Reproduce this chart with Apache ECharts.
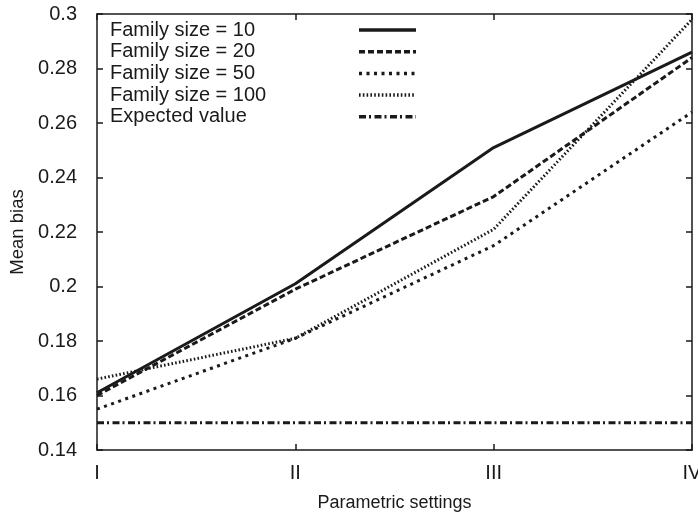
<!DOCTYPE html>
<html><head><meta charset="utf-8">
<script src="https://cdn.jsdelivr.net/npm/echarts@6/dist/echarts.min.js"></script>
<style>html,body{margin:0;padding:0;background:#fff}#c{width:698px;height:514px}</style>
</head><body><div id="c"></div>
<script>
const categories = ['I', 'II', 'III', 'IV'];
const size10 = [0.161, 0.201, 0.251, 0.286];
const size20 = [0.160, 0.199, 0.233, 0.284];
const size50 = [0.155, 0.181, 0.215, 0.264];
const size100 = [0.166, 0.181, 0.221, 0.298];
const expected = [0.15, 0.15, 0.15, 0.15];
const seriesNames = ['Family size = 10', 'Family size = 20', 'Family size = 50', 'Family size = 100', 'Expected value'];

const font = 'Liberation Sans, Arial, sans-serif';
const ink = '#1a1a1a';
function mk(name, data, type, width) {
  return { name, type: 'line', data, symbol: 'none', smooth: false,
    lineStyle: { color: ink, width, type, cap: 'butt' }, itemStyle: { color: ink } };
}
const chart = echarts.init(document.getElementById('c'), null, { renderer: 'canvas' });
chart.setOption({
  animation: false,
  grid: { left: 97, right: 6, top: 14, bottom: 64, containLabel: false, outerBoundsMode: 'none' },
  legend: {
    left: 105, top: 15, orient: 'vertical', align: 'right',
    itemWidth: 57, itemHeight: 14, itemGap: 1.7,
    icon: 'inherit',
    itemStyle: { opacity: 0 },
    lineStyle: { width: 3.5 },
    formatter: n => '{a|' + n + '}',
    textStyle: { fontFamily: font, fontSize: 20, color: ink, lineHeight: 19,
      rich: { a: { width: 244, align: 'left', fontFamily: font, fontSize: 20, color: ink, lineHeight: 19 } } },
    data: seriesNames.map(n => ({ name: n }))
  },
  xAxis: [{
    type: 'category', data: categories, boundaryGap: false,
    name: 'Parametric settings', nameLocation: 'middle', nameGap: 44,
    nameTextStyle: { fontFamily: font, fontSize: 18, color: ink },
    axisLine: { lineStyle: { color: ink, width: 1.5 } },
    axisTick: { inside: true, length: 6, lineStyle: { color: ink, width: 1.5 } },
    axisLabel: { fontFamily: font, fontSize: 20, color: ink, margin: 13,
      showMinLabel: true, showMaxLabel: true },
    splitLine: { show: false }
  }, {
    type: 'category', data: categories, boundaryGap: false, position: 'top',
    axisLine: { lineStyle: { color: ink, width: 1.5 } },
    axisTick: { inside: true, length: 6, lineStyle: { color: ink, width: 1.5 } },
    axisLabel: { show: false }, splitLine: { show: false }
  }],
  yAxis: [{
    type: 'value', min: 0.14, max: 0.3, interval: 0.02,
    name: 'Mean bias', nameLocation: 'middle', nameGap: 69, nameRotate: 90,
    nameTextStyle: { fontFamily: font, fontSize: 18.5, color: ink },
    axisLine: { show: true, lineStyle: { color: ink, width: 1.5 } },
    axisTick: { show: true, inside: true, length: 6, lineStyle: { color: ink, width: 1.5 } },
    axisLabel: { fontFamily: font, fontSize: 20, color: ink, margin: 20,
      formatter: v => String(Math.round(v * 100) / 100) },
    splitLine: { show: false }
  }, {
    type: 'value', min: 0.14, max: 0.3, interval: 0.02, position: 'right',
    axisLine: { show: true, lineStyle: { color: ink, width: 1.5 } },
    axisTick: { show: true, inside: true, length: 6, lineStyle: { color: ink, width: 1.5 } },
    axisLabel: { show: false }, splitLine: { show: false }
  }],
  series: [
    mk(seriesNames[0], size10, 'solid', 3),
    mk(seriesNames[1], size20, [6, 3], 3),
    mk(seriesNames[2], size50, [3, 4.5], 3),
    mk(seriesNames[3], size100, [1.6, 2.2], 3),
    mk(seriesNames[4], expected, [7, 3, 2, 3.5], 3)
  ]
});
</script></body></html>
